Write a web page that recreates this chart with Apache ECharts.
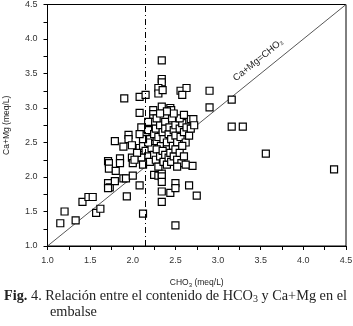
<!DOCTYPE html>
<html><head><meta charset="utf-8">
<script src="https://cdn.jsdelivr.net/npm/echarts@6/dist/echarts.min.js"></script>
<style>html,body{margin:0;padding:0;background:#fff}#c{width:353px;height:326px}</style>
</head><body><div id="c"></div>
<script>
var xTicks = [1.0, 4.5, 0.5];
var yTicks = [1.0, 4.5, 0.5];
var refX = 2.15;
var lineLabel = 'Ca+Mg=CHO₃';
var xName = 'CHO{s|3} (meq/L)';
var yName = 'Ca+Mg (meq/L)';
var captionLine1 = '{b|Fig.} 4. Relación entre el contenido de HCO{s|3} y Ca+Mg en el';
var captionLine2 = 'embalse';
var pointsSparse = [
 [1.15,1.33],[1.20,1.50],[1.33,1.37],[1.41,1.64],[1.48,1.71],[1.53,1.71],[1.57,1.48],[1.62,1.54],
 [1.71,2.23],[1.72,2.20],[1.72,2.12],[1.80,2.09],[1.71,1.91],[1.73,1.85],[1.71,1.84],[1.79,1.94],
 [1.89,1.98],[1.92,1.98],[2.00,2.02],[1.93,1.72],[2.08,1.88],[2.12,1.47],
 [2.25,2.03],[2.30,2.02],[2.34,2.05],[2.34,2.01],[2.34,1.93],[2.34,1.79],[2.34,1.64],[2.44,1.77],
 [2.50,1.91],[2.50,1.84],[2.50,1.30],[2.66,1.88],[2.75,1.73],[2.70,2.16],[3.56,2.34],[4.36,2.11],
 [1.90,3.14],[2.08,3.16],[2.15,3.19],[2.08,2.93],[2.34,3.69],[2.34,3.42],[2.34,3.37],[2.30,3.29],
 [2.30,3.21],[2.35,3.26],[2.56,3.25],[2.63,3.29],[2.58,3.19],[2.90,3.25],[2.90,3.01],[3.16,3.12],
 [3.16,2.73],[3.29,2.73],[2.68,2.84],[2.71,2.84],[2.24,2.97],[2.24,2.91],[2.24,2.85],[2.24,2.80],
 [2.34,3.02],[2.44,3.00],[2.45,2.97],[1.79,2.52],[1.95,2.61],[1.95,2.55],[1.89,2.44],[1.99,2.46],
 [2.08,2.42],[2.12,2.45],[1.85,2.27],[1.85,2.20],[1.99,2.28],[2.00,2.20]
];
var pointsDense = [
 [2.10,2.72],[2.15,2.60],[2.18,2.68],[2.20,2.55],[2.22,2.48],[2.25,2.62],[2.27,2.70],[2.28,2.52],
 [2.30,2.58],[2.32,2.75],[2.33,2.45],[2.35,2.65],[2.36,2.55],[2.38,2.80],[2.38,2.70],[2.40,2.50],
 [2.40,2.40],[2.42,2.62],[2.43,2.72],[2.45,2.55],[2.46,2.85],[2.47,2.45],[2.48,2.68],[2.50,2.60],
 [2.50,2.75],[2.52,2.50],[2.53,2.40],[2.55,2.70],[2.56,2.58],[2.58,2.78],[2.60,2.65],[2.62,2.50],
 [2.63,2.72],[2.66,2.60],[2.68,2.70],[2.72,2.75],[2.55,2.85],[2.60,2.90],[2.48,2.92],[2.40,2.95],
 [2.15,2.38],[2.18,2.30],[2.20,2.22],[2.22,2.42],[2.25,2.32],[2.27,2.25],[2.28,2.40],[2.30,2.15],
 [2.32,2.30],[2.35,2.38],[2.36,2.22],[2.38,2.32],[2.40,2.18],[2.42,2.28],[2.44,2.35],[2.45,2.22],
 [2.48,2.30],[2.50,2.40],[2.52,2.25],[2.55,2.35],[2.57,2.20],[2.58,2.45],[2.60,2.30],[2.62,2.18],
 [2.52,2.15],[2.10,2.28],[2.12,2.18],[2.05,2.35],[2.02,2.25],[2.18,2.50],[2.12,2.55],[2.08,2.62],
 [2.28,2.85],[2.32,2.92],[2.18,2.80]
];
var diag = [[1.0,1.0],[4.5,4.5]];
var labelAt = [3.56, 3.56];

var chart = echarts.init(document.getElementById('c'), null, {renderer:'canvas'});
var axisCommon = {
  interval: 0.5,
  axisLine: {show:true, onZero:false, lineStyle:{color:'#000', width:1}},
  axisTick: {show:true, inside:false, length:4, lineStyle:{color:'#000', width:1}},
  minorTick: {show:true, splitNumber:2, length:4, lineStyle:{color:'#000', width:1}},
  splitLine: {show:false},
  axisLabel: {color:'#333', fontSize:9, fontFamily:'Liberation Sans', formatter:function(v){return v.toFixed(1);}}
};
var option = {
  animation:false,
  backgroundColor:'#fff',
  grid:{left:47.5, right:7, top:4.5, bottom:80, show:true, borderColor:'#000', borderWidth:1,
        containLabel:false, outerBoundsMode:'none'},
  xAxis: Object.assign({}, axisCommon, {type:'value', min:xTicks[0], max:xTicks[1],
    axisLabel:Object.assign({}, axisCommon.axisLabel, {margin:10}),
    name:xName, nameLocation:'middle', nameGap:31,
    nameTextStyle:{color:'#222', fontSize:8.5, fontFamily:'Liberation Sans', rich:{s:{fontSize:6, padding:[5,0,0,0], fontFamily:'Liberation Sans'}}}}),
  yAxis: Object.assign({}, axisCommon, {type:'value', min:yTicks[0], max:yTicks[1],
    axisLabel:Object.assign({}, axisCommon.axisLabel, {margin:10}),
    name:yName, nameLocation:'middle', nameGap:36, nameRotate:90,
    nameTextStyle:{color:'#222', fontSize:8.5, fontFamily:'Liberation Sans'}}),
  series:[
    {type:'line', data:diag, symbol:'none', lineStyle:{color:'#444', width:0.9}, silent:true, z:1,
     markLine:{symbol:'none', silent:true, label:{show:false},
       lineStyle:{color:'#000', width:1, type:[6,3,1,3]}, data:[{xAxis:refX}]}},
    {type:'scatter', data:pointsSparse.concat(pointsDense), symbol:'rect', symbolSize:7,
     itemStyle:{color:'#fff', borderColor:'#000', borderWidth:1.2, opacity:1}, z:3}
  ]
};
chart.setOption(option);
var p = chart.convertToPixel({gridIndex:0}, labelAt);
var p0 = chart.convertToPixel({gridIndex:0}, [1,1]);
var p1 = chart.convertToPixel({gridIndex:0}, [4.5,4.5]);
var ang = Math.atan2(p0[1]-p1[1], p1[0]-p0[0]);
var d = 12;
chart.setOption({graphic:[
  {type:'text', x:p[0]-d*Math.sin(ang), y:p[1]-d*Math.cos(ang), rotation:ang,
   style:{text:lineLabel, fontSize:9.5, fontFamily:'Liberation Sans', fill:'#222', align:'center', verticalAlign:'middle'}},
  {type:'text', left:4, top:289,
   style:{text:captionLine1, fontSize:14.3, fontFamily:'Liberation Serif', fill:'#222',
     rich:{b:{fontWeight:'bold', fontSize:14.3, fontFamily:'Liberation Serif'}, s:{fontSize:10, fontFamily:'Liberation Serif', padding:[6,0,0,0]}}}},
  {type:'text', left:50, top:305,
   style:{text:captionLine2, fontSize:14.3, fontFamily:'Liberation Serif', fill:'#222'}}
]});
</script></body></html>
